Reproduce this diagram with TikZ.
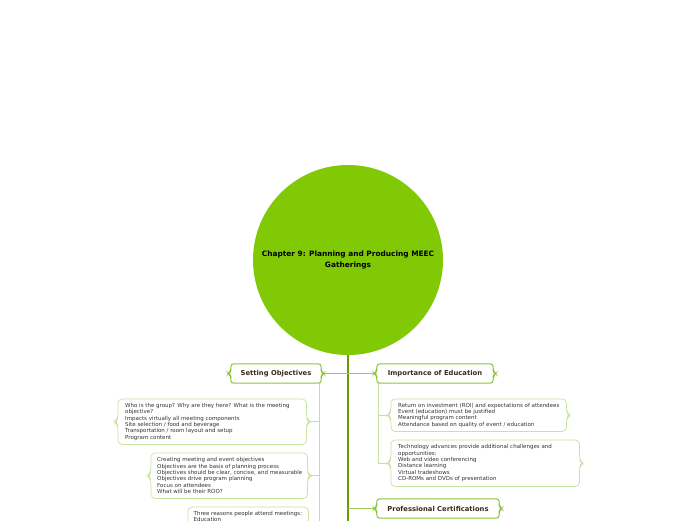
\documentclass[tikz,border=0pt]{standalone}
\usepackage{fontspec}
\setmainfont{DejaVu Sans}
\usetikzlibrary{calc}
\definecolor{circlegreen}{HTML}{82C905}
\definecolor{trunkgreen}{HTML}{6A9A00}
\definecolor{headborder}{HTML}{8CC63F}
\definecolor{subborder}{HTML}{C8E3A0}
\definecolor{linkgreen}{HTML}{9CCF55}
\definecolor{branchgreen}{HTML}{C5E09E}
\definecolor{headtext}{HTML}{3B2A1E}
\definecolor{subtextc}{HTML}{333333}
\newcommand\bracebox[3]{% style, node, notch
  \draw[#1] (#2.north west) -- (#2.north east) -- ([yshift=#3]#2.east) -- ([xshift=#3]#2.east) -- ([yshift=-#3]#2.east) -- (#2.south east) -- (#2.south west) -- ([yshift=-#3]#2.west) -- ([xshift=-#3]#2.west) -- ([yshift=#3]#2.west) -- cycle;}
\begin{document}
\begin{tikzpicture}[x=1pt,y=-1pt,
  headbox/.style={rectangle, draw=none, inner sep=0pt, minimum height=19pt,
    font=\fontsize{6.8}{8}\selectfont\bfseries, text=headtext},
  headline/.style={draw=headborder, line width=1pt, rounded corners=3pt},
  subbox/.style={rectangle, draw=none, inner sep=0pt, anchor=north west},
  subline/.style={draw=subborder, line width=0.7pt, rounded corners=4pt},
  subtext/.style={align=left, inner sep=0pt, font=\fontsize{5.5}{6.45}\selectfont, text=subtextc},
  trunk/.style={draw=trunkgreen, line width=1.6pt},
  link/.style={draw=linkgreen, line width=0.8pt},
  branch/.style={draw=branchgreen, line width=0.8pt}]
\useasboundingbox (0,0) rectangle (696,520);
\fill[white] (0,0) rectangle (696,520);

% central topic
\node[circle, fill=circlegreen, minimum size=190pt, inner sep=0pt, align=center,
  font=\fontsize{7.4}{11}\selectfont\bfseries, text=black] (C) at (348,260)
  {Chapter 9: Planning and Producing MEEC\\Gatherings};
\coordinate (TB) at (348,530);
\draw[trunk] (C.south) -- (TB);

% main headings
\node[headbox, minimum width=90pt] (SO) at (276,373.5) {Setting Objectives};
\node[headbox, minimum width=116pt] (IE) at (435,373.5) {Importance of Education};
\node[headbox, minimum width=122pt] (PC) at (438,508.5) {Professional Certifications};

% left sub boxes
\node[subbox, minimum width=188pt, minimum height=45pt] (L1) at (118,399) {};
\node[subtext, anchor=west] (L1t) at ([xshift=7pt]L1.west)
  {Who is the group? Why are they here? What is the meeting\\objective?\\Impacts virtually all meeting components\\Site selection / food and beverage\\Transportation / room layout and setup\\Program content};
\node[subbox, minimum width=156pt, minimum height=45pt] (L2) at (151,453) {};
\node[subtext, anchor=west] (L2t) at ([xshift=6pt]L2.west)
  {Creating meeting and event objectives\\Objectives are the basis of planning process\\Objectives should be clear, concise, and measurable\\Objectives drive program planning\\Focus on attendees\\What will be their ROO?};
\node[subbox, minimum width=120pt, minimum height=60pt] (L3) at (188,507) {};
\node[subtext, anchor=north west] (L3t) at ([xshift=5.5pt,yshift=-4pt]L3.north west)
  {Three reasons people attend meetings:\\Education};

% right sub boxes
\node[subbox, minimum width=175pt, minimum height=32pt] (R1) at (391,399) {};
\node[subtext, anchor=west] (R1t) at ([xshift=7pt]R1.west)
  {Return on investment (ROI) and expectations of attendees\\Event (education) must be justified\\Meaningful program content\\Attendance based on quality of event / education};
\node[subbox, minimum width=188pt, minimum height=46pt] (R2) at (391,440) {};
\node[subtext, anchor=west] (R2t) at ([xshift=7pt]R2.west)
  {Technology advances provide additional challenges and\\opportunities:\\Web and video conferencing\\Distance learning\\Virtual tradeshows\\CD-ROMs and DVDs of presentation};

% outlines
\bracebox{headline}{SO}{2.5pt}
\bracebox{headline}{IE}{2.5pt}
\bracebox{headline}{PC}{2.5pt}
\bracebox{subline}{L1}{3.5pt}
\bracebox{subline}{L2}{3.5pt}
\bracebox{subline}{L3}{3.5pt}
\bracebox{subline}{R1}{3.5pt}
\bracebox{subline}{R2}{3.5pt}

% links from trunk to headings
\draw[link] ([xshift=2.5pt]SO.east) -- (SO.east -| C.south);
\draw[link] ([xshift=-2.5pt]IE.west) -- (IE.west -| C.south);
\draw[link] ([xshift=-2.5pt]PC.west) -- (PC.west -| C.south);

% left branch
\coordinate (LB) at (319,530);
\draw[branch] (SO.south -| LB) -- (LB);
\draw[branch] ([xshift=3.5pt]L1.east) -- (L1.east -| LB);
\draw[branch] ([xshift=3.5pt]L2.east) -- (L2.east -| LB);

% right branch
\coordinate (RB) at (378,463);
\draw[branch] (IE.south -| RB) -- (R2.west -| RB) -- ([xshift=-3.5pt]R2.west);
\draw[branch] (R1.west -| RB) -- ([xshift=-3.5pt]R1.west);
\end{tikzpicture}
\end{document}
